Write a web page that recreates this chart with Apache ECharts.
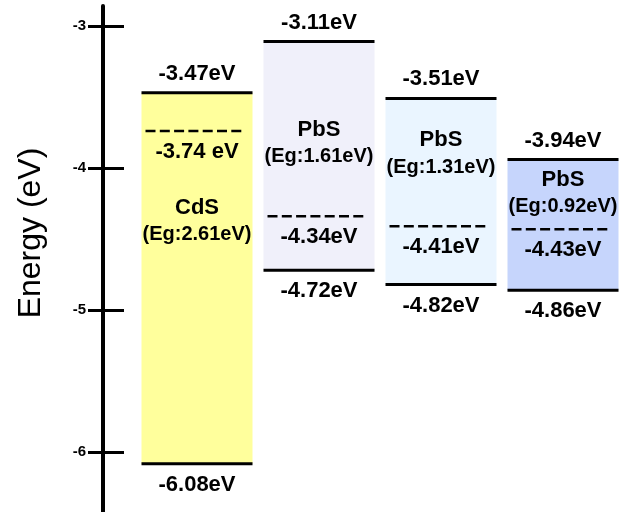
<!DOCTYPE html>
<html>
<head>
<meta charset="utf-8">
<script src="https://cdn.jsdelivr.net/npm/echarts@6/dist/echarts.min.js"></script>
<style>
html,body{margin:0;padding:0;background:#fff;}
#chart{width:622px;height:512px;}
</style>
</head>
<body>
<div id="chart"></div>
<script>
// ---- data ----
const categories = ['CdS', 'PbS (1.61)', 'PbS (1.31)', 'PbS (0.92)'];
const materialNames = ['CdS', 'PbS', 'PbS', 'PbS'];
const bandgapLabels = ['(Eg:2.61eV)', '(Eg:1.61eV)', '(Eg:1.31eV)', '(Eg:0.92eV)'];
const cbEnergies = [-3.47, -3.11, -3.51, -3.94];
const vbEnergies = [-6.08, -4.72, -4.82, -4.86];
const fermiEnergies = [-3.74, -4.34, -4.41, -4.43];
const cbLabels = ['-3.47eV', '-3.11eV', '-3.51eV', '-3.94eV'];
const vbLabels = ['-6.08eV', '-4.72eV', '-4.82eV', '-4.86eV'];
const fermiLabels = ['-3.74 eV', '-4.34eV', '-4.41eV', '-4.43eV'];
const yTicks = [-6, -5, -4, -3];
const yTickLabels = ['-6', '-5', '-4', '-3'];
const yMin = -6.42, yMax = -2.86;

// ---- styles (not data) ----
const fills = ['#ffff9c', '#f0f0fa', '#eaf5ff', '#c6d5fc'];
const nameOffsets = [115, 88, 42, 20]; // px below conduction band line
const FONT = '"Liberation Sans", Arial, sans-serif';
const AXIS_OFFSET = 31;
const LABEL_MARGIN = 17;

const seriesData = categories.map((c, i) => [i, cbEnergies[i], vbEnergies[i], fermiEnergies[i]]);
const tickLabelData = yTicks.map((v, i) => [0, v, i]);

const chart = echarts.init(document.getElementById('chart'), null, {renderer: 'canvas'});

function renderItem(params, api) {
  const i = api.value(0);
  const top = api.coord([i, api.value(1)]);
  const bot = api.coord([i, api.value(2)]);
  const fer = api.coord([i, api.value(3)]);
  const w = 111;
  const x0 = top[0] - w / 2 + 2, x1 = x0 + w;
  const cx = (x0 + x1) / 2;
  const txt = (text, y, size) => ({
    type: 'text',
    style: {text: text, x: cx, y: y, align: 'center', verticalAlign: 'middle',
      font: 'bold ' + size + 'px ' + FONT, fill: '#000'}
  });
  return {
    type: 'group',
    children: [
      {type: 'rect', shape: {x: x0, y: top[1], width: w, height: bot[1] - top[1]},
        style: {fill: fills[i]}},
      {type: 'line', shape: {x1: x0, y1: top[1], x2: x1, y2: top[1]},
        style: {stroke: '#000', lineWidth: 3}},
      {type: 'line', shape: {x1: x0, y1: bot[1], x2: x1, y2: bot[1]},
        style: {stroke: '#000', lineWidth: 3}},
      {type: 'line', shape: {x1: x0 + 4, y1: fer[1], x2: x1 - 10, y2: fer[1]},
        style: {stroke: '#000', lineWidth: 2.5, lineDash: [10, 4.3]}},
      txt(cbLabels[i], top[1] - 19, 22),
      txt(vbLabels[i], bot[1] + 21, 22),
      txt(fermiLabels[i], fer[1] + 21, 22),
      txt(materialNames[i], top[1] + nameOffsets[i], 22),
      txt(bandgapLabels[i], top[1] + nameOffsets[i] + 27, 20)
    ]
  };
}

function renderTickLabel(params, api) {
  const p = api.coord([0, api.value(1)]);
  const x = params.coordSys.x - AXIS_OFFSET - LABEL_MARGIN;
  return {
    type: 'text',
    style: {text: yTickLabels[api.value(2)], x: x, y: p[1], align: 'right', verticalAlign: 'middle',
      font: 'bold 15px ' + FONT, fill: '#000'}
  };
}

const option = {
  backgroundColor: '#fff',
  animation: false,
  grid: {left: 134, right: 0, top: 6, bottom: 0, containLabel: false},
  xAxis: {type: 'category', data: categories, show: false},
  yAxis: [
    {
      type: 'value', min: yMin, max: yMax, offset: AXIS_OFFSET, position: 'left',
      axisLine: {show: true, lineStyle: {color: '#000', width: 4}},
      axisTick: {show: true, inside: false, length: 15, customValues: yTicks,
        lineStyle: {color: '#000', width: 3}},
      axisLabel: {show: false},
      splitLine: {show: false}
    },
    {
      type: 'value', min: yMin, max: yMax, offset: AXIS_OFFSET, position: 'left',
      axisLine: {show: false},
      axisTick: {show: true, inside: true, length: 21, customValues: yTicks,
        lineStyle: {color: '#000', width: 3}},
      axisLabel: {show: false},
      splitLine: {show: false}
    }
  ],
  graphic: [{
    type: 'text', x: 31, y: 233, rotation: Math.PI / 2,
    style: {text: 'Energy (eV)', font: '32px ' + FONT, fill: '#000',
      align: 'center', verticalAlign: 'middle'}
  }],
  series: [
    {
      type: 'custom',
      renderItem: renderItem,
      encode: {x: 0, y: [1, 2, 3]},
      data: seriesData,
      clip: false
    },
    {
      type: 'custom',
      renderItem: renderTickLabel,
      encode: {x: 0, y: 1},
      data: tickLabelData,
      clip: false,
      silent: true
    }
  ]
};
chart.setOption(option);
</script>
</body>
</html>
